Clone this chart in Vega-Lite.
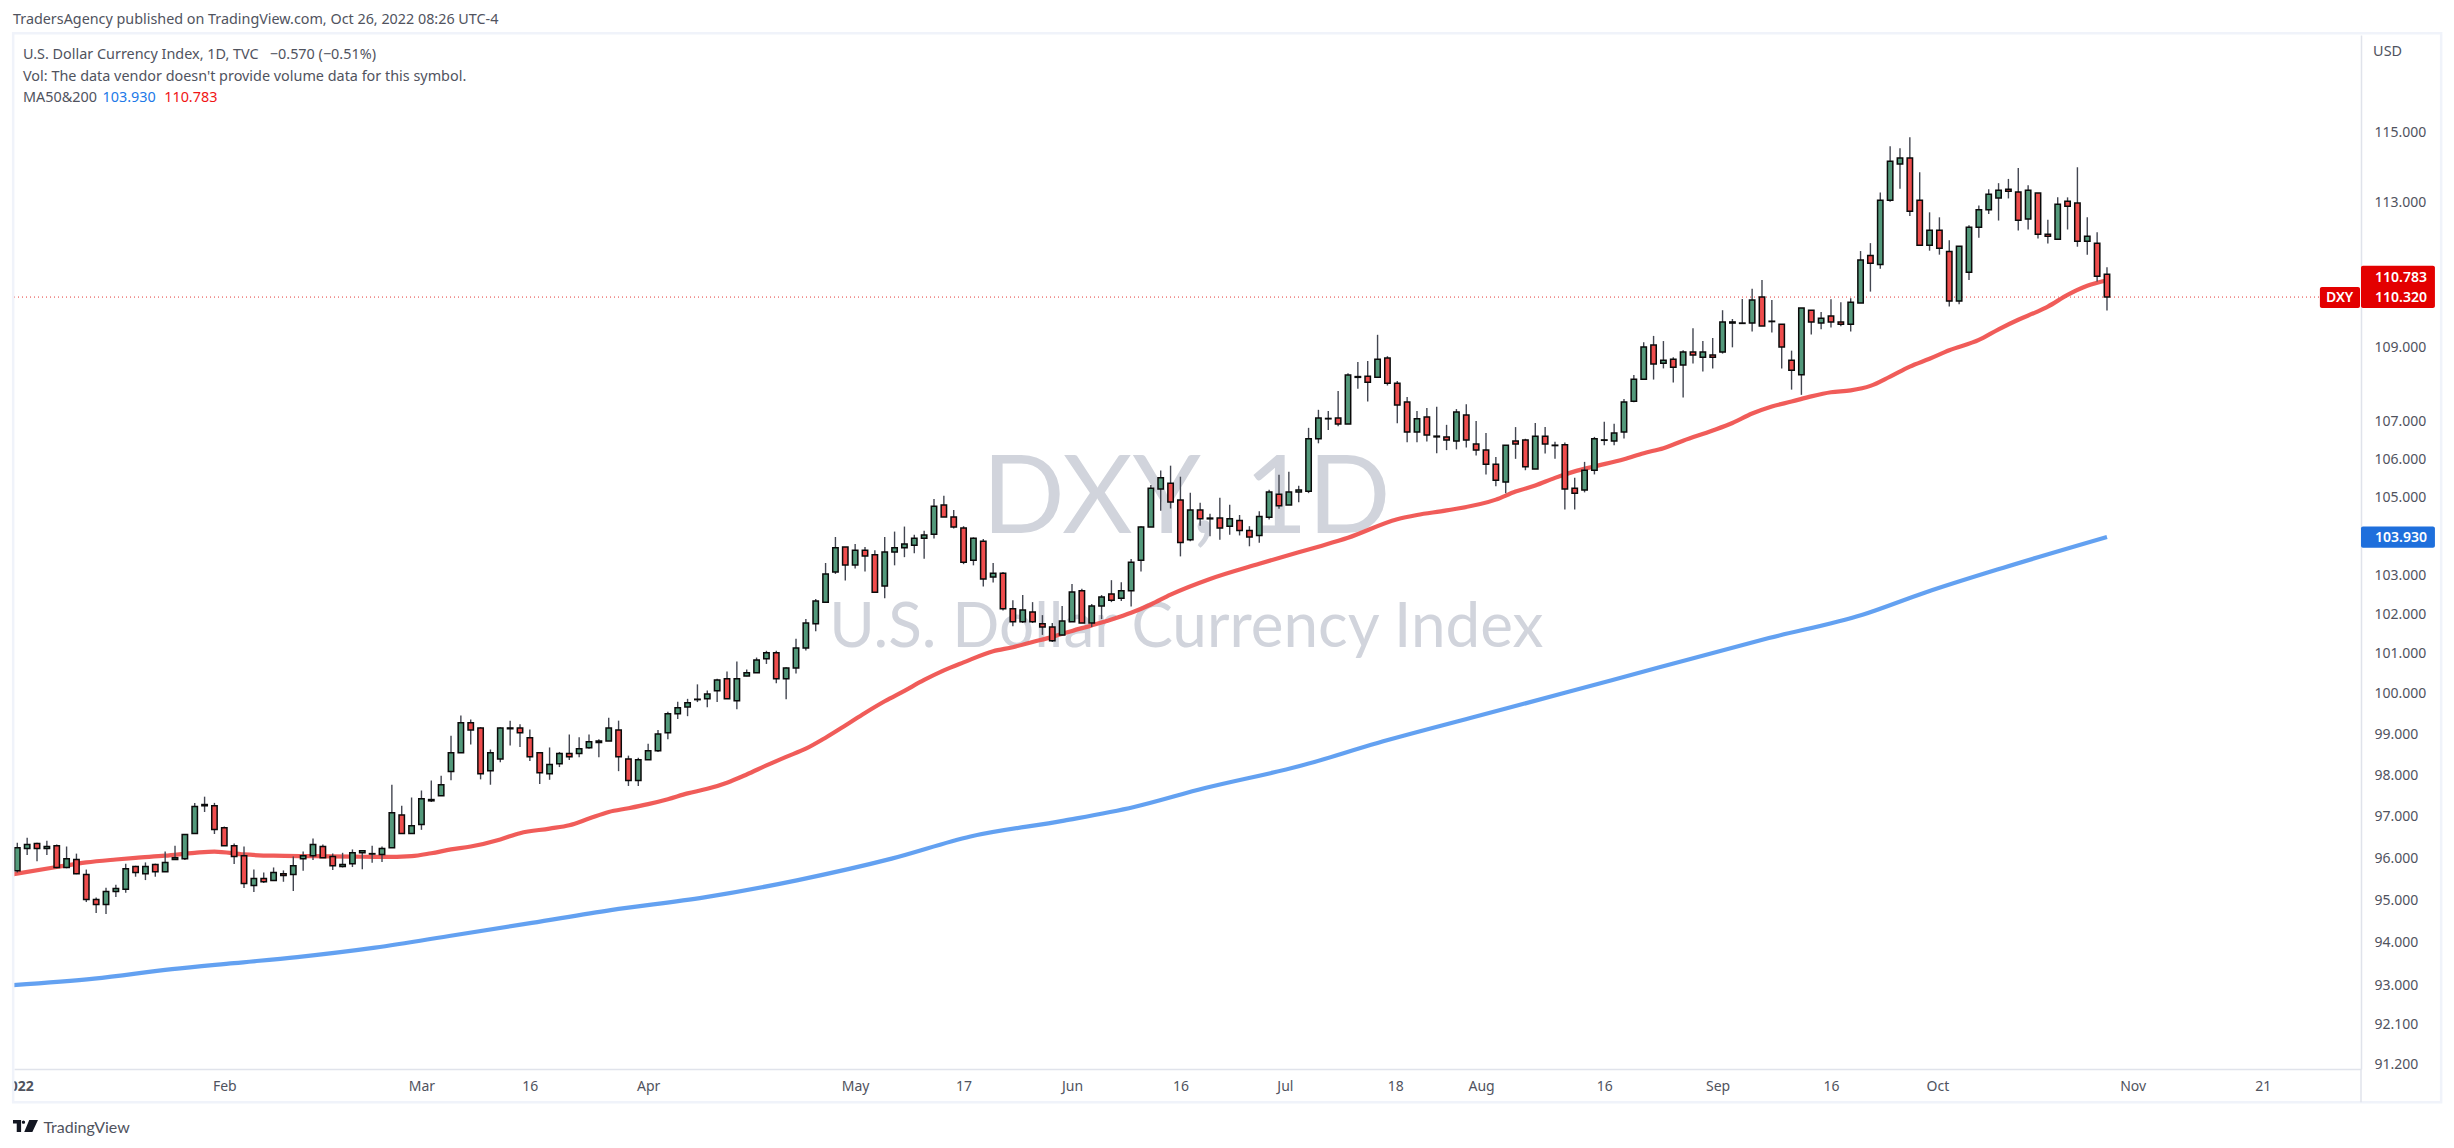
{
  "$schema": "https://vega.github.io/schema/vega-lite/v6.json",
  "width": 2347,
  "height": 1034,
  "autosize": {"type": "none"},
  "padding": {"left": 14, "top": 35, "right": 93, "bottom": 79},
  "background": "#ffffff",
  "view": {"stroke": null},
  "config": {"font": "Noto Sans"},
  "title": {
    "text": "TradersAgency published on TradingView.com, Oct 26, 2022 08:26 UTC-4",
    "anchor": "start", "frame": "group", "dx": -1, "offset": 5,
    "fontSize": 14.35, "fontWeight": "normal", "font": "Noto Sans", "color": "#50535e"
  },
  "datasets": {
    "candles": [
      {"i":0,"o":95.65,"h":96.32,"l":95.61,"c":96.20},{"i":1,"o":96.18,"h":96.44,"l":96.03,"c":96.28},{"i":2,"o":96.30,"h":96.32,"l":95.88,"c":96.18},{"i":3,"o":96.18,"h":96.37,"l":96.03,"c":96.23},{"i":4,"o":96.25,"h":96.28,"l":95.71,"c":95.73},
      {"i":5,"o":95.73,"h":96.23,"l":95.71,"c":95.94},{"i":6,"o":95.92,"h":96.06,"l":95.57,"c":95.58},{"i":7,"o":95.56,"h":95.68,"l":94.91,"c":94.97},{"i":8,"o":94.97,"h":95.02,"l":94.65,"c":94.85},{"i":9,"o":94.85,"h":95.25,"l":94.63,"c":95.16},
      {"i":10,"o":95.16,"h":95.32,"l":95.03,"c":95.23},{"i":11,"o":95.21,"h":95.82,"l":95.13,"c":95.70},{"i":12,"o":95.75,"h":95.77,"l":95.51,"c":95.61},{"i":13,"o":95.58,"h":95.85,"l":95.43,"c":95.75},{"i":14,"o":95.80,"h":95.82,"l":95.51,"c":95.63},
      {"i":15,"o":95.63,"h":96.11,"l":95.62,"c":95.85},{"i":16,"o":95.92,"h":96.25,"l":95.91,"c":95.96},{"i":17,"o":95.94,"h":96.52,"l":95.91,"c":96.52},{"i":18,"o":96.54,"h":97.28,"l":96.54,"c":97.19},{"i":19,"o":97.21,"h":97.43,"l":97.06,"c":97.24},
      {"i":20,"o":97.21,"h":97.28,"l":96.53,"c":96.64},{"i":21,"o":96.68,"h":96.71,"l":96.25,"c":96.25},{"i":22,"o":96.25,"h":96.30,"l":95.81,"c":95.99},{"i":23,"o":96.01,"h":96.23,"l":95.24,"c":95.35},{"i":24,"o":95.30,"h":95.68,"l":95.15,"c":95.47},
      {"i":25,"o":95.47,"h":95.61,"l":95.36,"c":95.39},{"i":26,"o":95.42,"h":95.73,"l":95.42,"c":95.61},{"i":27,"o":95.58,"h":95.66,"l":95.39,"c":95.54},{"i":28,"o":95.56,"h":95.99,"l":95.17,"c":95.77},{"i":29,"o":95.94,"h":96.11,"l":95.65,"c":96.01},
      {"i":30,"o":96.01,"h":96.42,"l":95.91,"c":96.28},{"i":31,"o":96.23,"h":96.28,"l":95.96,"c":95.96},{"i":32,"o":95.99,"h":96.06,"l":95.67,"c":95.77},{"i":33,"o":95.75,"h":96.08,"l":95.73,"c":95.80},{"i":34,"o":95.82,"h":96.16,"l":95.74,"c":96.08},
      {"i":35,"o":96.08,"h":96.13,"l":95.69,"c":96.13},{"i":36,"o":96.05,"h":96.25,"l":95.84,"c":96.06},{"i":37,"o":96.04,"h":96.23,"l":95.86,"c":96.18},{"i":38,"o":96.20,"h":97.72,"l":96.20,"c":97.04},{"i":39,"o":96.99,"h":97.21,"l":96.54,"c":96.54},
      {"i":40,"o":96.54,"h":97.41,"l":96.54,"c":96.73},{"i":41,"o":96.76,"h":97.58,"l":96.63,"c":97.38},{"i":42,"o":97.33,"h":97.82,"l":97.30,"c":97.36},{"i":43,"o":97.45,"h":97.94,"l":97.45,"c":97.72},{"i":44,"o":98.04,"h":98.92,"l":97.83,"c":98.50},
      {"i":45,"o":98.50,"h":99.42,"l":98.50,"c":99.24},{"i":46,"o":99.24,"h":99.32,"l":98.70,"c":99.06},{"i":47,"o":99.11,"h":99.13,"l":97.85,"c":97.99},{"i":48,"o":98.06,"h":98.58,"l":97.72,"c":98.50},{"i":49,"o":98.35,"h":99.13,"l":98.27,"c":99.11},
      {"i":50,"o":99.09,"h":99.29,"l":98.68,"c":99.11},{"i":51,"o":99.11,"h":99.20,"l":98.64,"c":98.99},{"i":52,"o":98.87,"h":99.07,"l":98.30,"c":98.40},{"i":53,"o":98.50,"h":98.50,"l":97.74,"c":98.01},{"i":54,"o":97.99,"h":98.63,"l":97.84,"c":98.21},
      {"i":55,"o":98.23,"h":98.52,"l":98.15,"c":98.48},{"i":56,"o":98.48,"h":98.95,"l":98.32,"c":98.40},{"i":57,"o":98.48,"h":98.88,"l":98.39,"c":98.60},{"i":58,"o":98.62,"h":98.95,"l":98.60,"c":98.77},{"i":59,"o":98.75,"h":98.83,"l":98.39,"c":98.79},
      {"i":60,"o":98.79,"h":99.36,"l":98.79,"c":99.11},{"i":61,"o":99.06,"h":99.29,"l":98.05,"c":98.40},{"i":62,"o":98.35,"h":98.43,"l":97.69,"c":97.82},{"i":63,"o":97.82,"h":98.38,"l":97.69,"c":98.33},{"i":64,"o":98.33,"h":98.72,"l":98.32,"c":98.55},
      {"i":65,"o":98.55,"h":99.06,"l":98.52,"c":98.96},{"i":66,"o":98.99,"h":99.51,"l":98.83,"c":99.46},{"i":67,"o":99.46,"h":99.76,"l":99.33,"c":99.61},{"i":68,"o":99.63,"h":99.83,"l":99.40,"c":99.73},{"i":69,"o":99.81,"h":100.19,"l":99.75,"c":99.82},
      {"i":70,"o":99.83,"h":100.04,"l":99.62,"c":99.95},{"i":71,"o":100.03,"h":100.33,"l":99.75,"c":100.30},{"i":72,"o":100.33,"h":100.51,"l":99.83,"c":99.83},{"i":73,"o":99.78,"h":100.76,"l":99.57,"c":100.33},{"i":74,"o":100.40,"h":100.56,"l":100.39,"c":100.48},
      {"i":75,"o":100.48,"h":100.86,"l":100.48,"c":100.80},{"i":76,"o":100.83,"h":101.03,"l":100.70,"c":100.98},{"i":77,"o":100.98,"h":101.03,"l":100.22,"c":100.33},{"i":78,"o":100.33,"h":100.62,"l":99.82,"c":100.60},{"i":79,"o":100.60,"h":101.33,"l":100.46,"c":101.10},
      {"i":80,"o":101.10,"h":101.83,"l":101.04,"c":101.73},{"i":81,"o":101.71,"h":102.34,"l":101.52,"c":102.29},{"i":82,"o":102.26,"h":103.26,"l":102.24,"c":102.98},{"i":83,"o":103.03,"h":103.93,"l":102.98,"c":103.65},{"i":84,"o":103.67,"h":103.67,"l":102.81,"c":103.21},
      {"i":85,"o":103.21,"h":103.75,"l":103.12,"c":103.59},{"i":86,"o":103.59,"h":103.67,"l":103.04,"c":103.44},{"i":87,"o":103.47,"h":103.59,"l":102.49,"c":102.51},{"i":88,"o":102.67,"h":103.93,"l":102.36,"c":103.54},{"i":89,"o":103.54,"h":104.07,"l":103.20,"c":103.65},
      {"i":90,"o":103.65,"h":104.20,"l":103.41,"c":103.75},{"i":91,"o":103.72,"h":103.99,"l":103.51,"c":103.90},{"i":92,"o":103.90,"h":104.09,"l":103.37,"c":103.98},{"i":93,"o":104.00,"h":104.92,"l":103.89,"c":104.73},{"i":94,"o":104.76,"h":105.00,"l":104.45,"c":104.45},
      {"i":95,"o":104.45,"h":104.63,"l":104.15,"c":104.19},{"i":96,"o":104.16,"h":104.21,"l":103.23,"c":103.28},{"i":97,"o":103.33,"h":103.92,"l":103.20,"c":103.90},{"i":98,"o":103.82,"h":103.88,"l":102.66,"c":102.85},{"i":99,"o":102.90,"h":103.26,"l":102.76,"c":103.00},
      {"i":100,"o":103.00,"h":103.03,"l":102.05,"c":102.09},{"i":101,"o":102.09,"h":102.31,"l":101.65,"c":101.76},{"i":102,"o":101.76,"h":102.44,"l":101.73,"c":102.06},{"i":103,"o":102.01,"h":102.26,"l":101.73,"c":101.76},{"i":104,"o":101.71,"h":101.93,"l":101.43,"c":101.63},
      {"i":105,"o":101.63,"h":101.73,"l":101.25,"c":101.28},{"i":106,"o":101.43,"h":102.16,"l":101.42,"c":101.78},{"i":107,"o":101.76,"h":102.72,"l":101.76,"c":102.52},{"i":108,"o":102.55,"h":102.60,"l":101.73,"c":101.73},{"i":109,"o":101.73,"h":102.21,"l":101.63,"c":102.16},
      {"i":110,"o":102.16,"h":102.44,"l":101.83,"c":102.39},{"i":111,"o":102.47,"h":102.82,"l":102.26,"c":102.31},{"i":112,"o":102.36,"h":102.77,"l":102.29,"c":102.55},{"i":113,"o":102.55,"h":103.36,"l":102.15,"c":103.28},{"i":114,"o":103.33,"h":104.21,"l":103.04,"c":104.19},
      {"i":115,"o":104.19,"h":105.28,"l":104.19,"c":105.20},{"i":116,"o":105.18,"h":105.66,"l":104.61,"c":105.47},{"i":117,"o":105.33,"h":105.79,"l":104.67,"c":104.84},{"i":118,"o":104.89,"h":105.50,"l":103.43,"c":103.79},{"i":119,"o":103.86,"h":105.08,"l":103.82,"c":104.63},
      {"i":120,"o":104.63,"h":104.82,"l":104.22,"c":104.40},{"i":121,"o":104.40,"h":104.53,"l":103.95,"c":104.42},{"i":122,"o":104.42,"h":104.95,"l":103.86,"c":104.16},{"i":123,"o":104.21,"h":104.77,"l":103.99,"c":104.40},{"i":124,"o":104.36,"h":104.50,"l":103.97,"c":104.10},
      {"i":125,"o":104.10,"h":104.21,"l":103.69,"c":103.93},{"i":126,"o":103.97,"h":104.60,"l":103.78,"c":104.46},{"i":127,"o":104.44,"h":105.16,"l":104.38,"c":105.10},{"i":128,"o":105.04,"h":105.55,"l":104.66,"c":104.74},{"i":129,"o":104.76,"h":105.63,"l":104.76,"c":105.10},
      {"i":130,"o":105.10,"h":105.26,"l":104.83,"c":105.15},{"i":131,"o":105.12,"h":106.79,"l":105.07,"c":106.50},{"i":132,"o":106.50,"h":107.27,"l":106.38,"c":107.05},{"i":133,"o":107.03,"h":107.24,"l":106.73,"c":107.04},{"i":134,"o":107.05,"h":107.77,"l":106.83,"c":106.89},
      {"i":135,"o":106.89,"h":108.25,"l":106.89,"c":108.20},{"i":136,"o":108.14,"h":108.55,"l":107.83,"c":108.16},{"i":137,"o":108.17,"h":108.58,"l":107.49,"c":108.01},{"i":138,"o":108.14,"h":109.29,"l":108.14,"c":108.63},{"i":139,"o":108.66,"h":108.71,"l":107.92,"c":107.98},
      {"i":140,"o":107.98,"h":108.04,"l":106.91,"c":107.40},{"i":141,"o":107.48,"h":107.61,"l":106.41,"c":106.68},{"i":142,"o":106.68,"h":107.24,"l":106.41,"c":107.03},{"i":143,"o":107.08,"h":107.32,"l":106.43,"c":106.60},{"i":144,"o":106.55,"h":107.35,"l":106.12,"c":106.57},
      {"i":145,"o":106.55,"h":106.87,"l":106.20,"c":106.47},{"i":146,"o":106.44,"h":107.29,"l":106.22,"c":107.21},{"i":147,"o":107.13,"h":107.42,"l":106.27,"c":106.47},{"i":148,"o":106.36,"h":106.97,"l":106.06,"c":106.20},{"i":149,"o":106.20,"h":106.65,"l":105.56,"c":105.83},
      {"i":150,"o":105.83,"h":106.02,"l":105.25,"c":105.41},{"i":151,"o":105.36,"h":106.33,"l":105.07,"c":106.33},{"i":152,"o":106.44,"h":106.81,"l":105.97,"c":106.36},{"i":153,"o":106.47,"h":106.50,"l":105.67,"c":105.76},{"i":154,"o":105.70,"h":106.92,"l":105.70,"c":106.57},
      {"i":155,"o":106.57,"h":106.81,"l":106.11,"c":106.36},{"i":156,"o":106.32,"h":106.42,"l":105.97,"c":106.33},{"i":157,"o":106.34,"h":106.40,"l":104.64,"c":105.18},{"i":158,"o":105.20,"h":105.47,"l":104.64,"c":105.07},{"i":159,"o":105.15,"h":105.89,"l":105.09,"c":105.67},
      {"i":160,"o":105.67,"h":106.55,"l":105.56,"c":106.50},{"i":161,"o":106.46,"h":106.95,"l":106.33,"c":106.47},{"i":162,"o":106.44,"h":106.90,"l":106.33,"c":106.65},{"i":163,"o":106.68,"h":107.56,"l":106.51,"c":107.48},{"i":164,"o":107.50,"h":108.20,"l":107.47,"c":108.09},
      {"i":165,"o":108.09,"h":109.09,"l":108.09,"c":108.96},{"i":166,"o":109.01,"h":109.26,"l":108.08,"c":108.50},{"i":167,"o":108.52,"h":109.12,"l":108.38,"c":108.60},{"i":168,"o":108.63,"h":108.68,"l":108.00,"c":108.41},{"i":169,"o":108.47,"h":108.87,"l":107.60,"c":108.82},
      {"i":170,"o":108.82,"h":109.47,"l":108.51,"c":108.74},{"i":171,"o":108.68,"h":109.12,"l":108.30,"c":108.82},{"i":172,"o":108.74,"h":109.20,"l":108.38,"c":108.68},{"i":173,"o":108.82,"h":109.96,"l":108.78,"c":109.64},{"i":174,"o":109.61,"h":109.72,"l":108.95,"c":109.64},
      {"i":175,"o":109.60,"h":110.27,"l":109.60,"c":109.61},{"i":176,"o":109.61,"h":110.55,"l":109.38,"c":110.24},{"i":177,"o":110.32,"h":110.79,"l":109.53,"c":109.53},{"i":178,"o":109.65,"h":110.24,"l":109.35,"c":109.66},{"i":179,"o":109.58,"h":109.58,"l":108.38,"c":108.96},
      {"i":180,"o":108.60,"h":108.86,"l":107.81,"c":108.33},{"i":181,"o":108.21,"h":110.02,"l":107.67,"c":110.02},{"i":182,"o":109.96,"h":109.96,"l":109.30,"c":109.64},{"i":183,"o":109.61,"h":109.91,"l":109.44,"c":109.74},{"i":184,"o":109.80,"h":110.26,"l":109.49,"c":109.64},
      {"i":185,"o":109.64,"h":110.18,"l":109.52,"c":109.58},{"i":186,"o":109.58,"h":110.29,"l":109.38,"c":110.18},{"i":187,"o":110.16,"h":111.59,"l":110.16,"c":111.34},{"i":188,"o":111.47,"h":111.81,"l":110.47,"c":111.25},{"i":189,"o":111.22,"h":113.23,"l":111.10,"c":113.01},
      {"i":190,"o":113.01,"h":114.54,"l":112.97,"c":114.11},{"i":191,"o":114.03,"h":114.48,"l":113.33,"c":114.20},{"i":192,"o":114.20,"h":114.79,"l":112.57,"c":112.70},{"i":193,"o":113.01,"h":113.80,"l":111.75,"c":111.75},{"i":194,"o":111.75,"h":112.67,"l":111.60,"c":112.17},
      {"i":195,"o":112.17,"h":112.53,"l":111.49,"c":111.67},{"i":196,"o":111.58,"h":111.89,"l":110.06,"c":110.21},{"i":197,"o":110.21,"h":111.72,"l":110.12,"c":111.72},{"i":198,"o":111.00,"h":112.31,"l":110.79,"c":112.25},{"i":199,"o":112.25,"h":112.86,"l":111.96,"c":112.74},
      {"i":200,"o":112.74,"h":113.32,"l":112.62,"c":113.18},{"i":201,"o":113.07,"h":113.49,"l":112.44,"c":113.29},{"i":202,"o":113.32,"h":113.61,"l":113.06,"c":113.26},{"i":203,"o":113.24,"h":113.92,"l":112.16,"c":112.45},{"i":204,"o":112.48,"h":113.43,"l":112.19,"c":113.29},
      {"i":205,"o":113.21,"h":113.21,"l":111.94,"c":112.06},{"i":206,"o":112.06,"h":112.46,"l":111.80,"c":112.00},{"i":207,"o":111.92,"h":113.09,"l":111.92,"c":112.90},{"i":208,"o":112.98,"h":113.09,"l":112.19,"c":112.84},{"i":209,"o":112.93,"h":113.94,"l":111.71,"c":111.86},
      {"i":210,"o":111.86,"h":112.53,"l":111.49,"c":112.00},{"i":211,"o":111.81,"h":112.11,"l":110.75,"c":110.89},{"i":212,"o":110.95,"h":111.14,"l":109.95,"c":110.32}
    ],
    "ma": [
      {"s":"MA50","i":-0.4,"v":95.57},{"s":"MA50","i":4,"v":95.74},{"s":"MA50","i":7,"v":95.85},{"s":"MA50","i":10,"v":95.92},{"s":"MA50","i":12,"v":95.96},{"s":"MA50","i":15,"v":96.01},{"s":"MA50","i":18,"v":96.08},{"s":"MA50","i":20,"v":96.11},{"s":"MA50","i":23,"v":96.04},{"s":"MA50","i":26,"v":96.01},{"s":"MA50","i":30,"v":96.0},{"s":"MA50","i":34,"v":95.99},{"s":"MA50","i":37,"v":95.98},{"s":"MA50","i":40,"v":96.0},{"s":"MA50","i":42,"v":96.07},{"s":"MA50","i":44,"v":96.16},{"s":"MA50","i":46,"v":96.23},{"s":"MA50","i":49,"v":96.40},{"s":"MA50","i":51,"v":96.55},{"s":"MA50","i":54,"v":96.66},{"s":"MA50","i":56,"v":96.74},{"s":"MA50","i":58,"v":96.90},{"s":"MA50","i":60,"v":97.06},{"s":"MA50","i":62,"v":97.15},{"s":"MA50","i":64,"v":97.25},{"s":"MA50","i":66,"v":97.37},{"s":"MA50","i":68,"v":97.51},{"s":"MA50","i":70,"v":97.62},{"s":"MA50","i":72,"v":97.77},{"s":"MA50","i":74,"v":97.97},{"s":"MA50","i":76,"v":98.19},{"s":"MA50","i":78,"v":98.40},{"s":"MA50","i":80,"v":98.60},{"s":"MA50","i":82,"v":98.87},{"s":"MA50","i":84,"v":99.17},{"s":"MA50","i":86,"v":99.48},{"s":"MA50","i":88,"v":99.77},{"s":"MA50","i":90,"v":100.03},{"s":"MA50","i":92,"v":100.30},{"s":"MA50","i":94,"v":100.54},{"s":"MA50","i":96,"v":100.74},{"s":"MA50","i":99,"v":101.02},{"s":"MA50","i":101,"v":101.12},{"s":"MA50","i":103,"v":101.25},{"s":"MA50","i":105,"v":101.38},{"s":"MA50","i":107,"v":101.53},{"s":"MA50","i":109,"v":101.67},{"s":"MA50","i":111,"v":101.82},{"s":"MA50","i":113,"v":101.99},{"s":"MA50","i":115,"v":102.2},{"s":"MA50","i":117,"v":102.45},{"s":"MA50","i":121,"v":102.85},{"s":"MA50","i":126,"v":103.24},{"s":"MA50","i":128,"v":103.39},{"s":"MA50","i":132,"v":103.68},{"s":"MA50","i":135,"v":103.91},{"s":"MA50","i":140,"v":104.39},{"s":"MA50","i":142,"v":104.5},{"s":"MA50","i":145,"v":104.62},{"s":"MA50","i":150,"v":104.90},{"s":"MA50","i":152,"v":105.11},{"s":"MA50","i":154,"v":105.27},{"s":"MA50","i":156,"v":105.47},{"s":"MA50","i":158,"v":105.64},{"s":"MA50","i":160,"v":105.77},{"s":"MA50","i":163,"v":105.96},{"s":"MA50","i":165,"v":106.12},{"s":"MA50","i":167,"v":106.25},{"s":"MA50","i":169,"v":106.45},{"s":"MA50","i":172,"v":106.72},{"s":"MA50","i":174,"v":106.92},{"s":"MA50","i":176,"v":107.17},{"s":"MA50","i":178,"v":107.36},{"s":"MA50","i":180,"v":107.49},{"s":"MA50","i":182,"v":107.63},{"s":"MA50","i":184,"v":107.74},{"s":"MA50","i":186,"v":107.79},{"s":"MA50","i":188,"v":107.91},{"s":"MA50","i":190,"v":108.16},{"s":"MA50","i":192,"v":108.43},{"s":"MA50","i":194,"v":108.64},{"s":"MA50","i":196,"v":108.87},{"s":"MA50","i":199,"v":109.15},{"s":"MA50","i":201,"v":109.44},{"s":"MA50","i":203,"v":109.70},{"s":"MA50","i":205,"v":109.93},{"s":"MA50","i":206,"v":110.06},{"s":"MA50","i":208,"v":110.38},{"s":"MA50","i":210,"v":110.63},{"s":"MA50","i":212,"v":110.783},
      {"s":"MA200","i":-0.4,"v":92.97},{"s":"MA200","i":7.8,"v":93.12},{"s":"MA200","i":15.7,"v":93.34},{"s":"MA200","i":22,"v":93.48},{"s":"MA200","i":28.4,"v":93.62},{"s":"MA200","i":36.3,"v":93.84},{"s":"MA200","i":44.3,"v":94.13},{"s":"MA200","i":52.2,"v":94.42},{"s":"MA200","i":60.2,"v":94.72},{"s":"MA200","i":69.7,"v":95.02},{"s":"MA200","i":79.2,"v":95.43},{"s":"MA200","i":88.7,"v":95.94},{"s":"MA200","i":96.7,"v":96.47},{"s":"MA200","i":106.2,"v":96.85},{"s":"MA200","i":113.3,"v":97.18},{"s":"MA200","i":120.5,"v":97.64},{"s":"MA200","i":130,"v":98.17},{"s":"MA200","i":138,"v":98.74},{"s":"MA200","i":147.5,"v":99.36},{"s":"MA200","i":157,"v":99.98},{"s":"MA200","i":166.5,"v":100.61},{"s":"MA200","i":177.7,"v":101.35},{"s":"MA200","i":187.2,"v":101.94},{"s":"MA200","i":193.5,"v":102.5},{"s":"MA200","i":201.5,"v":103.14},{"s":"MA200","i":212,"v":103.93}
    ],
    "tags": [
      {"s":"DXY","i":233.6,"i2":237.67,"v":110.6,"v2":110.02},
      {"s":"DXY","i":237.77,"i2":245.27,"v":111.18,"v2":110.02},
      {"s":"MA200","i":237.77,"i2":245.27,"v":104.2,"v2":103.65}
    ],
    "tagText": [
      {"i":239.2,"v":110.88,"text":"110.783"},
      {"i":239.2,"v":110.32,"text":"110.320"},
      {"i":239.2,"v":103.93,"text":"103.930"}
    ]
  },
  "encoding": {
    "x": {
      "field": "i", "type": "quantitative",
      "scale": {"domain": [-0.335, 237.77], "nice": false, "zero": false, "padding": 0},
      "axis": {
        "title": null, "grid": false, "ticks": false, "domainColor": "#e0e3eb", "domainWidth": 1.5,
        "values": [0,21,41,52,64,85,96,107,118,128.6,139.8,148.5,161,172.5,184,194.8,214.6,227.8],
        "labelExpr": "({'0':'2022','21':'Feb','41':'Mar','52':'16','64':'Apr','85':'May','96':'17','107':'Jun','118':'16','128.6':'Jul','139.8':'18','148.5':'Aug','161':'16','172.5':'Sep','184':'16','194.8':'Oct','214.6':'Nov','227.8':'21'})[datum.value]",
        "labelFontSize": 14, "labelFont": "Noto Sans", "labelColor": "#50535e", "labelPadding": 10,
        "labelFontWeight": {"expr": "datum.value == 0 ? 'bold' : 'normal'"},
        "labelOverlap": false, "labelBound": false, "labelFlush": false
      }
    },
    "y": {
      "type": "quantitative",
      "scale": {"type": "log", "domain": [91.05, 117.75], "nice": false},
      "axis": {
        "orient": "right", "title": null, "grid": false, "ticks": false, "domainColor": "#e0e3eb", "domainWidth": 1.5,
        "values": [115,113,109,107,106,105,103,102,101,100,99,98,97,96,95,94,93,92.1,91.2],
        "format": ".3f", "labelFontSize": 14, "labelFont": "Noto Sans", "labelColor": "#50535e", "labelPadding": 13, "labelOffset": 2,
        "labelOverlap": false, "labelBound": false, "labelFlush": false
      }
    }
  },
  "layer": [
    {
      "data": {"values": [{"i": 118.6, "v": 104.88, "text": "DXY, 1D"}]},
      "mark": {"type": "text", "fontSize": 109, "font": "Lato", "color": "#d1d4dc", "align": "center", "baseline": "middle"},
      "encoding": {"y": {"field": "v"}, "text": {"field": "text"}}
    },
    {
      "data": {"values": [{"i": 118.6, "v": 101.61, "text": "U.S. Dollar Currency Index"}]},
      "mark": {"type": "text", "fontSize": 62, "font": "Lato", "color": "#d1d4dc", "align": "center", "baseline": "middle"},
      "encoding": {"y": {"field": "v"}, "text": {"field": "text"}}
    },
    {
      "data": {"values": [{"i": -0.335, "i2": 233.6, "v": 110.32}]},
      "mark": {"type": "rule", "color": "#e53935", "strokeWidth": 1, "strokeDash": [1, 3]},
      "encoding": {"x2": {"field": "i2"}, "y": {"field": "v"}}
    },
    {
      "data": {"name": "ma"},
      "mark": {"type": "line", "strokeWidth": 4.2, "interpolate": "monotone", "opacity": 0.95},
      "encoding": {
        "y": {"field": "v"},
        "color": {"field": "s", "type": "nominal", "legend": null, "scale": {"domain": ["MA50", "MA200"], "range": ["#ef5350", "#5b9cf0"]}},
        "order": {"field": "i"}
      }
    },
    {
      "data": {"name": "candles"},
      "mark": {"type": "rule", "color": "#434651", "strokeWidth": 1.4},
      "encoding": {"y": {"field": "l"}, "y2": {"field": "h"}}
    },
    {
      "data": {"name": "candles"},
      "mark": {"type": "bar", "size": 5.4, "stroke": "#0a0a0a", "strokeWidth": 1.5},
      "encoding": {
        "y": {"field": "o"},
        "y2": {"field": "c"},
        "fill": {"condition": {"test": "datum.c >= datum.o", "value": "#53997b"}, "value": "#ef4d4d"}
      }
    },
    {
      "data": {"values": [{"i": -2, "i2": -0.42, "v": 91.0, "v2": 90.3}]},
      "mark": {"type": "rect", "fill": "#ffffff"},
      "encoding": {"x2": {"field": "i2"}, "y": {"field": "v"}, "y2": {"field": "v2"}}
    },
    {
      "data": {"values": [{"i": -0.42, "i2": 245.9, "v": 117.8, "v2": 90.3}]},
      "mark": {"type": "rect", "fill": null, "stroke": "#f0f3fa", "strokeWidth": 2.5},
      "encoding": {"x2": {"field": "i2"}, "y": {"field": "v"}, "y2": {"field": "v2"}}
    },
    {
      "data": {"values": [{"i": 237.77, "v": 91.05, "v2": 90.3}]},
      "mark": {"type": "rule", "color": "#e0e3eb", "strokeWidth": 1.5},
      "encoding": {"y": {"field": "v"}, "y2": {"field": "v2"}}
    },
    {
      "data": {"name": "tags"},
      "mark": {"type": "rect", "cornerRadius": 2},
      "encoding": {
        "x2": {"field": "i2"},
        "y": {"field": "v"},
        "y2": {"field": "v2"},
        "fill": {"field": "s", "type": "nominal", "legend": null, "scale": {"domain": ["DXY", "MA200"], "range": ["#e30000", "#1e6fdc"]}}
      }
    },
    {
      "data": {"name": "tagText"},
      "mark": {"type": "text", "fontSize": 14, "font": "Noto Sans", "fontWeight": 600, "color": "#ffffff", "align": "left", "baseline": "middle", "dy": 1},
      "encoding": {"y": {"field": "v"}, "text": {"field": "text"}}
    },
    {
      "data": {"values": [{"i": 235.6, "v": 110.32, "text": "DXY"}]},
      "mark": {"type": "text", "fontSize": 14, "font": "Noto Sans", "fontWeight": 600, "color": "#ffffff", "align": "center", "baseline": "middle", "dy": 1},
      "encoding": {"y": {"field": "v"}, "text": {"field": "text"}}
    },
    {
      "data": {"values": [
        {"i": 0.58, "v": 117.22, "text": "U.S. Dollar Currency Index, 1D, TVC\u00a0\u00a0\u00a0−0.570 (−0.51%)"},
        {"i": 0.58, "v": 116.59, "text": "Vol: The data vendor doesn't provide volume data for this symbol."},
        {"i": 0.58, "v": 115.98, "text": "MA50&200"},
        {"i": 239.0, "v": 117.31, "text": "USD"}
      ]},
      "mark": {"type": "text", "fontSize": 14.4, "font": "Noto Sans", "color": "#50535e", "align": "left", "baseline": "middle", "dy": 2},
      "encoding": {"y": {"field": "v"}, "text": {"field": "text"}}
    },
    {
      "data": {"values": [{"i": 2.65, "v": 89.77, "text": "TradingView"}]},
      "mark": {"type": "text", "fontSize": 16, "font": "Lato", "color": "#50535e", "align": "left", "baseline": "middle", "dy": 2},
      "encoding": {"y": {"field": "v"}, "text": {"field": "text"}}
    },
    {
      "data": {"values": [{"i": 8.65, "v": 115.98, "text": "103.930"}]},
      "mark": {"type": "text", "fontSize": 14.4, "font": "Noto Sans", "color": "#2179e8", "align": "left", "baseline": "middle", "dy": 2},
      "encoding": {"y": {"field": "v"}, "text": {"field": "text"}}
    },
    {
      "data": {"values": [{"i": 14.9, "v": 115.98, "text": "110.783"}]},
      "mark": {"type": "text", "fontSize": 14.4, "font": "Noto Sans", "color": "#f01515", "align": "left", "baseline": "middle", "dy": 2},
      "encoding": {"y": {"field": "v"}, "text": {"field": "text"}}
    },
    {
      "data": {"values": [{"i": 0.83, "v": 89.77}]},
      "mark": {
        "type": "point", "filled": true, "color": "#131722", "opacity": 1, "size": 625,
        "shape": "M-1,-0.48H-0.35V0.48H-0.7V-0.2H-1Z M-0.03,-0.3A0.13,0.13 0 1 1 -0.29,-0.3A0.13,0.13 0 1 1 -0.03,-0.3Z M0.3,-0.48H1L0.55,0.48H-0.1Z"
      },
      "encoding": {"y": {"field": "v"}}
    }
  ]
}
